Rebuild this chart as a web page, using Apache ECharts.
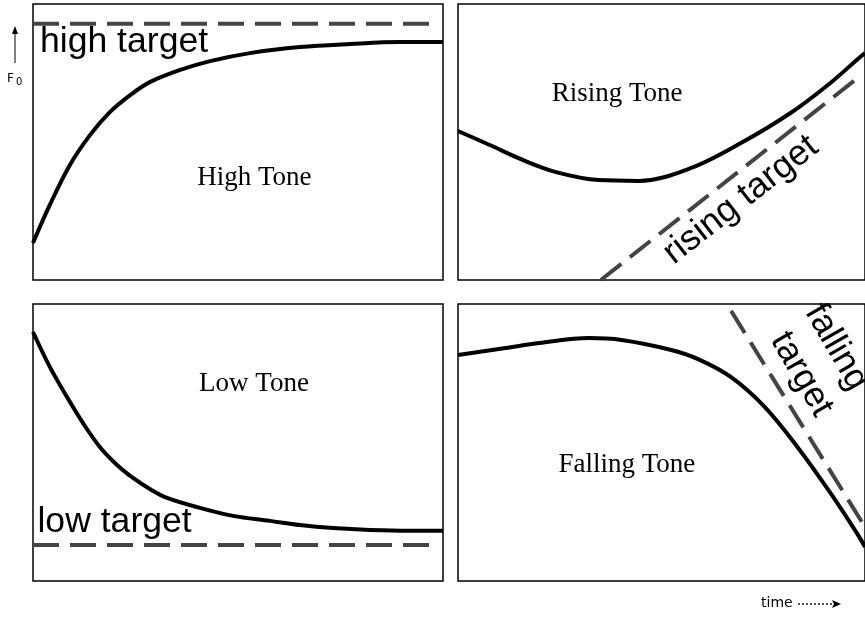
<!DOCTYPE html>
<html>
<head>
<meta charset="utf-8">
<script src="https://cdn.jsdelivr.net/npm/echarts@6/dist/echarts.min.js"></script>
<style>
  html, body { margin: 0; padding: 0; background: #fff; }
  #chart { width: 865px; height: 617px; }
</style>
</head>
<body>
<div id="chart"></div>
<script>
// every panel uses time 0..100 and F0 0..100
const highTime = [0, 4.1, 9.0, 13.9, 18.8, 23.7, 28.5, 35.9, 43.2, 52.9, 65.1, 77.3, 89.5, 100];
const highF0 = [13.4, 27.2, 41.7, 52.5, 60.9, 67.0, 71.7, 76.1, 79.3, 82.2, 84.4, 85.5, 86.2, 86.2];

const risingTime = [0, 7.8, 15.9, 24.1, 34.6, 44.4, 57.3, 69.5, 81.7, 91.5, 98.8, 100];
const risingF0 = [54.0, 48.9, 43.5, 39.1, 36.2, 35.9, 40.6, 49.6, 60.5, 71.4, 80.8, 82.2];

const lowTime = [0, 4.1, 8.3, 12.2, 16.3, 20.5, 24.4, 28.5, 32.7, 40.7, 48.8, 57.8, 65.1, 73.2, 82.2, 92.0, 100];
const lowF0 = [89.9, 77.3, 66.4, 57.0, 48.4, 41.9, 37.2, 33.2, 30.0, 26.4, 23.5, 21.7, 20.2, 19.1, 18.4, 18.1, 18.1];

const fallingTime = [0, 11.7, 20.0, 32.2, 40.2, 52.4, 59.0, 67.1, 75.4, 83.4, 91.5, 98.0, 100];
const fallingF0 = [81.6, 84.1, 85.9, 87.7, 87.0, 83.4, 80.1, 73.6, 62.8, 48.4, 31.8, 17.3, 12.3];

// targets: [start, end] in time / F0
const highTargetTime = [0, 97.3];
const highTargetF0 = [92.8, 92.8];
const risingTargetTime = [35.1, 97.6];
const risingTargetF0 = [0, 72.5];
const lowTargetTime = [0, 96.8];
const lowTargetF0 = [13.0, 13.0];
const fallingTargetTime = [67.1, 100];
const fallingTargetF0 = [97.5, 19.5];

const toneNames = ['High Tone', 'Rising Tone', 'Low Tone', 'Falling Tone'];
const targetNames = ['high target', 'rising target', 'low target', 'falling', 'target'];

// label anchors (panel, time, F0, rotation)
const toneAnchors = [[0, 54.0, 37.0], [1, 39.1, 67.4], [2, 53.9, 71.1], [3, 41.5, 41.9]];
const targetAnchors = [[0, 22.2, 86.2, 0], [1, 69.5, 29.0, 38], [2, 19.9, 21.3, 0], [3, 93.0, 84.4, -60], [3, 84.4, 74.6, -60]];

const panels = [
  { left: 33, top: 4, width: 410, height: 276 },
  { left: 458, top: 4, width: 410, height: 276 },
  { left: 33, top: 304, width: 410, height: 277 },
  { left: 458, top: 304, width: 410, height: 277 }
];

const pairs = (xs, ys) => xs.map((x, k) => [x, ys[k]]);

function curve(i, xs, ys) {
  return {
    type: 'line', xAxisIndex: i, yAxisIndex: i, data: pairs(xs, ys),
    smooth: 0.35, showSymbol: false, silent: true,
    lineStyle: { color: '#000', width: 4 }
  };
}

function target(i, xs, ys) {
  return {
    type: 'line', xAxisIndex: i, yAxisIndex: i, data: pairs(xs, ys),
    showSymbol: false, silent: true,
    lineStyle: { color: '#444', width: 4, type: [26, 11] }
  };
}

function note(anchor, text, font, size) {
  return {
    type: 'scatter', xAxisIndex: anchor[0], yAxisIndex: anchor[0],
    data: [[anchor[1], anchor[2]]], symbolSize: 1, clip: false, silent: true,
    itemStyle: { color: 'rgba(0,0,0,0)' },
    label: {
      show: true, position: 'inside', formatter: text, rotate: anchor[3] || 0,
      fontFamily: font, fontSize: size, color: '#000',
      textBorderWidth: 0, textBorderColor: 'transparent', opacity: 1
    }
  };
}

const chart = echarts.init(document.getElementById('chart'));
chart.setOption({
  animation: false,
  backgroundColor: '#fff',
  grid: panels.map(p => Object.assign({ show: true, borderColor: '#000', borderWidth: 1.5 }, p)),
  xAxis: panels.map((p, i) => ({ type: 'value', gridIndex: i, min: 0, max: 100, show: false })),
  yAxis: panels.map((p, i) => ({ type: 'value', gridIndex: i, min: 0, max: 100, show: false })),
  series: [
    target(0, highTargetTime, highTargetF0),
    target(1, risingTargetTime, risingTargetF0),
    target(2, lowTargetTime, lowTargetF0),
    target(3, fallingTargetTime, fallingTargetF0),
    curve(0, highTime, highF0),
    curve(1, risingTime, risingF0),
    curve(2, lowTime, lowF0),
    curve(3, fallingTime, fallingF0),
    ...toneAnchors.map((a, i) => note(a, toneNames[i], 'Liberation Serif', 27)),
    ...targetAnchors.map((a, i) => note(a, targetNames[i], 'Liberation Sans', 35.6))
  ],
  graphic: [
    { type: 'line', shape: { x1: 15, y1: 63, x2: 15, y2: 32 }, style: { stroke: '#000', lineWidth: 1 } },
    { type: 'polygon', shape: { points: [[15, 26], [12, 34], [18, 34]] }, style: { fill: '#000' } },
    { type: 'text', x: 7, y: 79, style: { text: 'F', font: '12px "DejaVu Sans"', fill: '#000', align: 'left', verticalAlign: 'middle' } },
    { type: 'text', x: 16, y: 82, style: { text: '0', font: '10px "DejaVu Sans"', fill: '#000', align: 'left', verticalAlign: 'middle' } },
    { type: 'text', x: 761, y: 603, style: { text: 'time', font: '14px "DejaVu Sans"', fill: '#000', align: 'left', verticalAlign: 'middle' } },
    { type: 'line', shape: { x1: 798, y1: 604, x2: 834, y2: 604 }, style: { stroke: '#555', lineWidth: 2, lineDash: [2, 2] } },
    { type: 'polygon', shape: { points: [[841, 604], [832, 600], [834, 604], [832, 608]] }, style: { fill: '#000' } }
  ]
});
</script>
</body>
</html>
